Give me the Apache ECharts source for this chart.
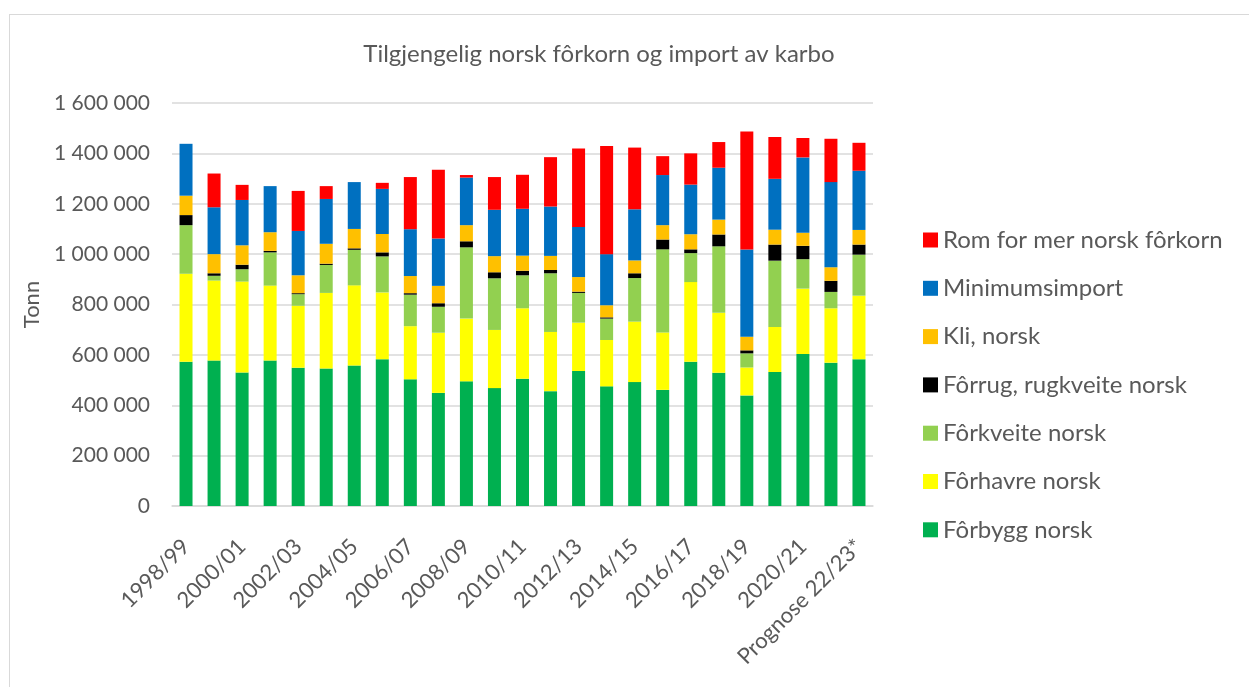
<!DOCTYPE html>
<html>
<head>
<meta charset="utf-8">
<script src="https://cdn.jsdelivr.net/npm/echarts@6/dist/echarts.min.js"></script>
<style>
  html, body { margin: 0; padding: 0; background: #fff; }
  #frame { position: absolute; left: 9px; top: 14px; width: 1300px; height: 700px;
           border-left: 1px solid #d9d9d9; border-top: 1px solid #d9d9d9; }
  #chart { position: absolute; left: 0; top: 0; width: 1249px; height: 687px; }
</style>
</head>
<body>
<div id="frame"></div>
<div id="chart"></div>
<script>
// sesonger (x-akse)
var seasons = ['1998/99', '1999/00', '2000/01', '2001/02', '2002/03', '2003/04', '2004/05',
  '2005/06', '2006/07', '2007/08', '2008/09', '2009/10', '2010/11', '2011/12', '2012/13',
  '2013/14', '2014/15', '2015/16', '2016/17', '2017/18', '2018/19', '2019/20', '2020/21',
  '2021/22', 'Prognose 22/23*'];

// tonn, lest av figuren (tusen tonn)
var forbygg = [573, 578, 530, 578, 549, 546, 558, 583, 503, 449, 495, 468, 505, 456, 536, 475, 492, 461, 573, 529, 439, 532, 603, 569, 583];
var forhavre = [349, 317, 361, 297, 246, 300, 318, 265, 211, 239, 249, 231, 280, 235, 192, 184, 240, 228, 316, 238, 111, 179, 260, 216, 252];
var forkveite = [193, 19, 49, 132, 46, 111, 141, 143, 125, 103, 283, 205, 131, 233, 118, 85, 173, 330, 115, 264, 56, 263, 117, 65, 163];
var forrug = [40, 10, 18, 6, 4, 5, 6, 16, 6, 14, 24, 24, 18, 13, 5, 5, 19, 39, 15, 47, 12, 64, 53, 44, 40];
var kli = [77, 76, 77, 74, 71, 79, 77, 73, 68, 69, 64, 64, 60, 56, 58, 48, 51, 57, 60, 59, 54, 59, 52, 54, 58];
var minimumsimport = [206, 186, 180, 183, 176, 178, 186, 179, 186, 188, 189, 184, 186, 196, 199, 203, 203, 199, 197, 206, 346, 202, 299, 338, 235];
var romForMer = [0, 134, 60, 0, 159, 51, 0, 24, 207, 273, 10, 130, 135, 196, 311, 429, 245, 75, 124, 102, 469, 166, 77, 172, 111];

var yTicks = [0, 200000, 400000, 600000, 800000, 1000000, 1200000, 1400000, 1600000];

var FONT = 'Lato';
var GREY = '#595959';

function tonn(arr) {
  return arr.map(function (v) { return v * 1000; });
}

function fmt(v) {
  return String(v).replace(/\B(?=(\d{3})+(?!\d))/g, ' ');
}

var seriesDefs = [
  { name: 'Fôrbygg norsk', data: forbygg, color: '#00B050' },
  { name: 'Fôrhavre norsk', data: forhavre, color: '#FFFF00' },
  { name: 'Fôrkveite norsk', data: forkveite, color: '#92D050' },
  { name: 'Fôrrug, rugkveite norsk', data: forrug, color: '#000000' },
  { name: 'Kli, norsk', data: kli, color: '#FFC000' },
  { name: 'Minimumsimport', data: minimumsimport, color: '#0070C0' },
  { name: 'Rom for mer norsk fôrkorn', data: romForMer, color: '#FF0000' }
];

var myChart = echarts.init(document.getElementById('chart'), null, { renderer: 'canvas' });

var option = {
  animation: false,
  textStyle: { fontFamily: FONT },
  title: {
    text: 'Tilgjengelig norsk fôrkorn og import av karbo',
    left: 594,
    textAlign: 'center',
    top: 37,
    textStyle: { fontFamily: FONT, fontSize: 24, fontWeight: 'normal', color: GREY }
  },
  legend: {
    orient: 'vertical',
    left: 918,
    top: 222,
    itemWidth: 15,
    itemHeight: 15,
    itemGap: 22.3,
    icon: 'rect',
    data: seriesDefs.map(function (s) { return s.name; }).reverse(),
    textStyle: { fontFamily: FONT, fontSize: 24, color: GREY, lineHeight: 26 }
  },
  grid: {
    left: 172,
    right: 376,
    top: 103,
    bottom: 181,
    outerBoundsMode: 'none'
  },
  xAxis: {
    type: 'category',
    data: seasons,
    axisLine: { lineStyle: { color: '#d9d9d9', width: 1.5 } },
    axisTick: { show: false },
    axisLabel: {
      interval: 1,
      rotate: 45,
      margin: 37,
      fontFamily: FONT,
      fontSize: 22,
      color: GREY
    }
  },
  yAxis: {
    type: 'value',
    min: yTicks[0],
    max: yTicks[yTicks.length - 1],
    interval: 200000,
    name: 'Tonn',
    nameLocation: 'middle',
    nameRotate: 90,
    nameGap: 126,
    nameTextStyle: { fontFamily: FONT, fontSize: 22, color: GREY },
    axisLine: { show: false },
    axisTick: { show: false },
    splitLine: { lineStyle: { color: '#d9d9d9', width: 1.5 } },
    axisLabel: {
      margin: 22,
      fontFamily: FONT,
      fontSize: 21,
      color: GREY,
      formatter: function (v) { return fmt(v); }
    }
  },
  series: seriesDefs.map(function (s) {
    return {
      name: s.name,
      type: 'bar',
      stack: 'total',
      barWidth: 13,
      data: tonn(s.data),
      itemStyle: { color: s.color }
    };
  })
};

myChart.setOption(option);
</script>
</body>
</html>
